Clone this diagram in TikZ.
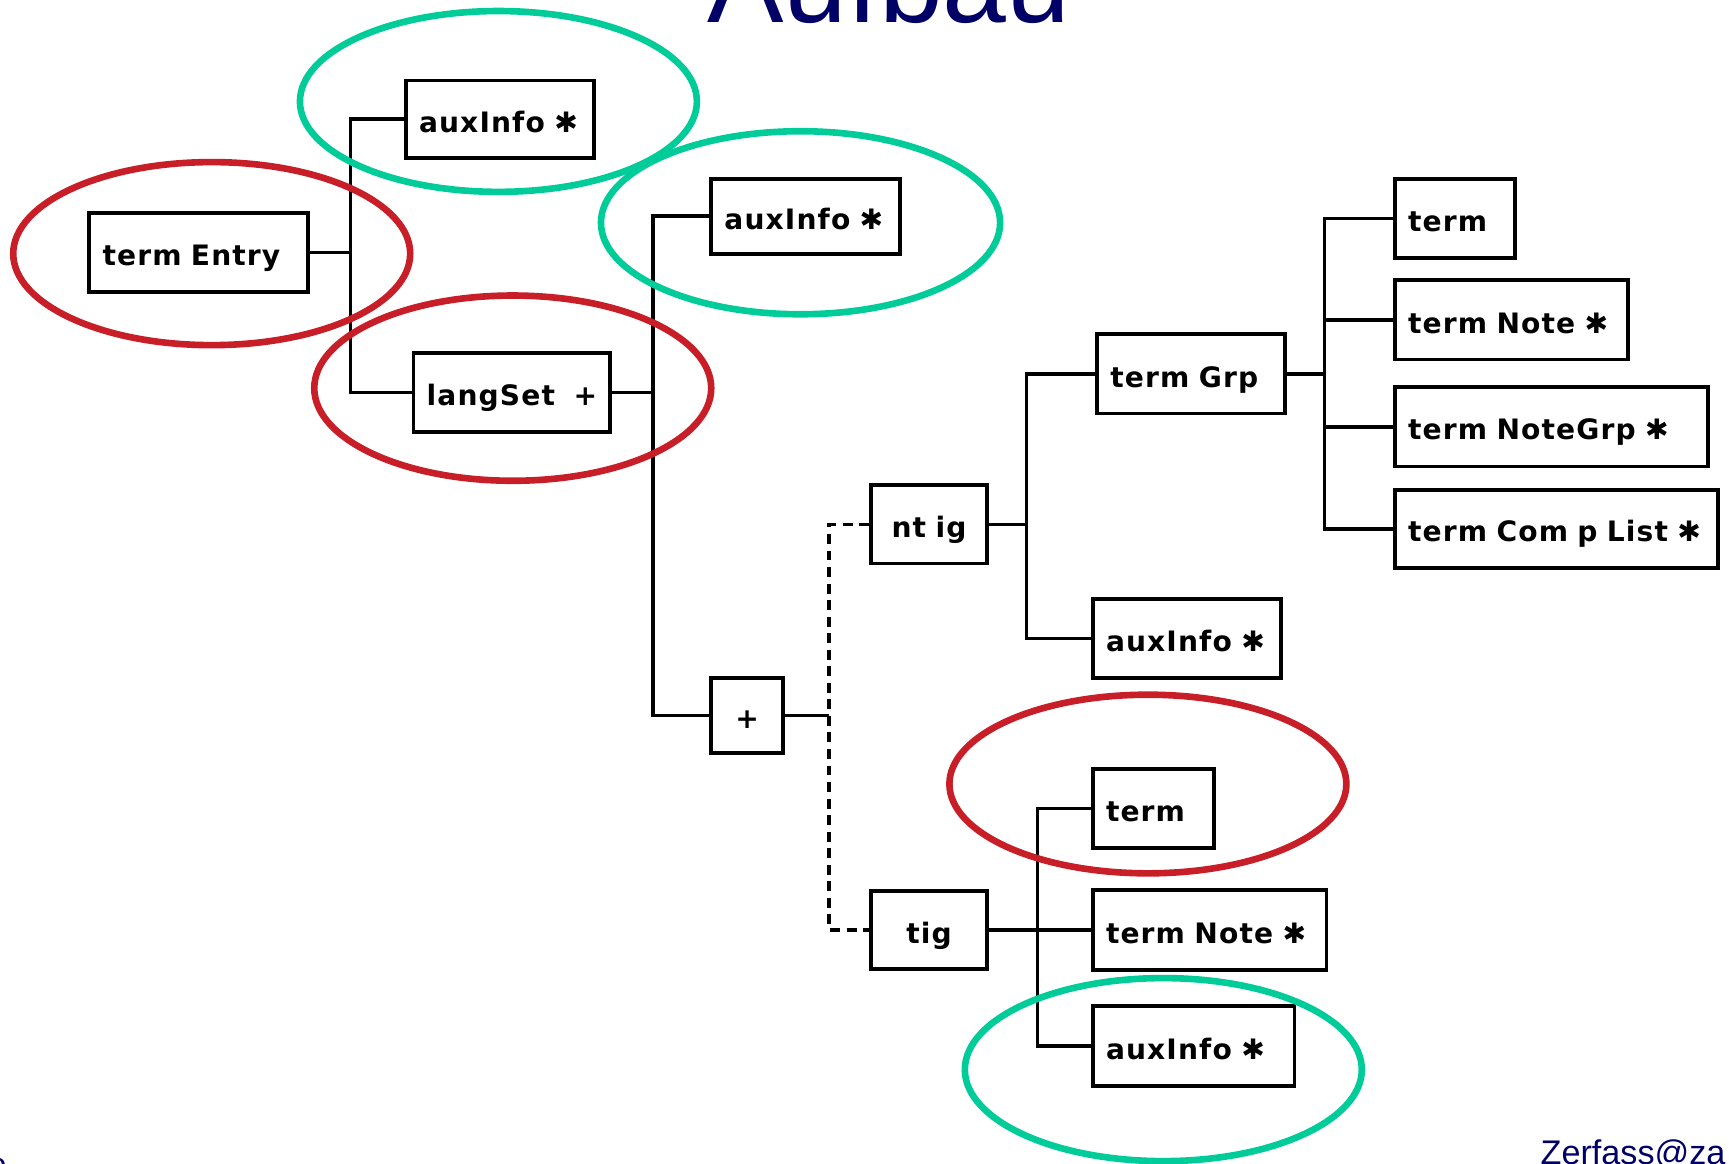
\documentclass[tikz,border=0pt]{standalone}
\usepackage{fontspec}
\setmainfont{Liberation Sans}
\newfontfamily\boxfont[LetterSpace=4]{DejaVu Sans Bold}
\definecolor{ringred}{RGB}{200,30,40}
\definecolor{ringgreen}{RGB}{0,204,153}
\definecolor{navy}{RGB}{0,0,102}
\newcommand\st{✱}
\newcommand\lbl[1]{\mbox{#1}}
\begin{document}
\begin{tikzpicture}[x=1pt,y=-1pt,
  box/.style={draw=black,line width=3.5pt,inner xsep=12pt,inner ysep=0pt,
    text height=24pt,text depth=0pt,
    align=left,font=\boxfont\fontsize{25.5}{30}\selectfont},
  conn/.style={draw=black,line width=3.2pt},
  dconn/.style={conn,dash pattern=on 9pt off 6pt},
  redring/.style={draw=ringred,line width=6pt},
  greenring/.style={draw=ringgreen,line width=6pt}]
\fill[white] (0,0) rectangle (1568,1055);
\useasboundingbox (0,0) rectangle (1568,1055);

% title and footer
\node[navy,font=\fontsize{104}{110}\selectfont,anchor=base west,inner sep=0pt] (title) at (641,20) {Aufbau};
\node[navy,font=\fontsize{31}{34}\selectfont,anchor=base west,inner sep=0pt] (mail) at (1397,1056) {Zerfass@za};
\node[navy,font=\fontsize{29}{32}\selectfont,anchor=base east,inner sep=0pt] (pg) at (6,1066) {o};

% boxes
\node[box,text width=147pt,minimum height=70pt] (aux1) at (453.5,108) {\lbl{auxInfo \st}};
\node[box,text width=174pt,minimum height=72pt] (te) at (180,229) {\lbl{term Entry}};
\node[box,text width=154pt,minimum height=72pt] (ls) at (464,356) {\lbl{langSet \ +}};
\node[box,text width=147pt,minimum height=68pt] (aux2) at (730.5,196) {\lbl{auxInfo \st}};
\node[box,text width=81pt,minimum height=71pt,align=center] (ntig) at (842.5,475.5) {\lbl{nt ig}};
\node[box,text width=41pt,minimum height=68pt,align=center] (plus) at (677.5,649) {\lbl{+}};
\node[box,text width=81pt,minimum height=71pt,align=center] (tig) at (842.5,843.5) {\lbl{tig}};
\node[box,text width=146pt,minimum height=72pt] (tgrp) at (1080,339) {\lbl{term Grp}};
\node[box,text width=85pt,minimum height=72pt] (t1) at (1319.5,198) {\lbl{term}};
\node[box,text width=187pt,minimum height=72pt] (tn1) at (1370.5,290) {\lbl{term Note \st}};
\node[box,text width=260pt,minimum height=72pt] (tng) at (1407,387) {\lbl{term NoteGrp \st}};
\node[box,text width=269pt,minimum height=71pt] (tcl) at (1411.5,479.5) {\lbl{term Com p List \st}};
\node[box,text width=147pt,minimum height=72pt] (aux3) at (1076.5,579) {\lbl{auxInfo \st}};
\node[box,text width=86pt,minimum height=72pt] (t2) at (1046,733) {\lbl{term}};
\node[box,text width=188pt,minimum height=73pt] (tn2) at (1097,843.5) {\lbl{term Note \st}};
\node[box,text width=159pt,minimum height=73pt] (aux4) at (1082.5,948.5) {\lbl{auxInfo \st}};

% junctions
\coordinate (j1) at (318,229);
\coordinate (j2) at (592,356);
\coordinate (j3) at (752,649);
\coordinate (j4) at (931,475.5);
\coordinate (j5) at (1201,339);
\coordinate (j6) at (941,843.5);

% connectors
\draw[conn] (te.east) -- (j1);
\draw[conn] (aux1.west) -| (j1) |- (ls.west);
\draw[conn] (ls.east) -- (j2);
\draw[conn] (aux2.west) -| (j2) |- (plus.west);
\draw[conn] (plus.east) -- (j3);
\draw[dconn] (ntig.west) -| (j3) |- (tig.west);
\draw[conn] (ntig.east) -- (j4);
\draw[conn] (tgrp.west) -| (j4) |- (aux3.west);
\draw[conn] (tgrp.east) -- (j5);
\draw[conn] (t1.west) -| (j5) |- (tcl.west);
\draw[conn] (j5 |- tn1.west) -- (tn1.west);
\draw[conn] (j5 |- tng.west) -- (tng.west);
\draw[conn] (tig.east) -- (tn2.west);
\draw[conn] (t2.west) -| (j6) |- (aux4.west);

% rings
\draw[greenring] (452,92) ellipse [x radius=180, y radius=82];
\draw[redring] (192,230) ellipse [x radius=180, y radius=83];
\draw[greenring] (726,202) ellipse [x radius=181, y radius=83];
\draw[redring] (465,352) ellipse [x radius=180, y radius=84];
\draw[redring] (1041,711) ellipse [x radius=180, y radius=81];
\draw[greenring] (1055,970) ellipse [x radius=180, y radius=83];
\end{tikzpicture}
\end{document}
